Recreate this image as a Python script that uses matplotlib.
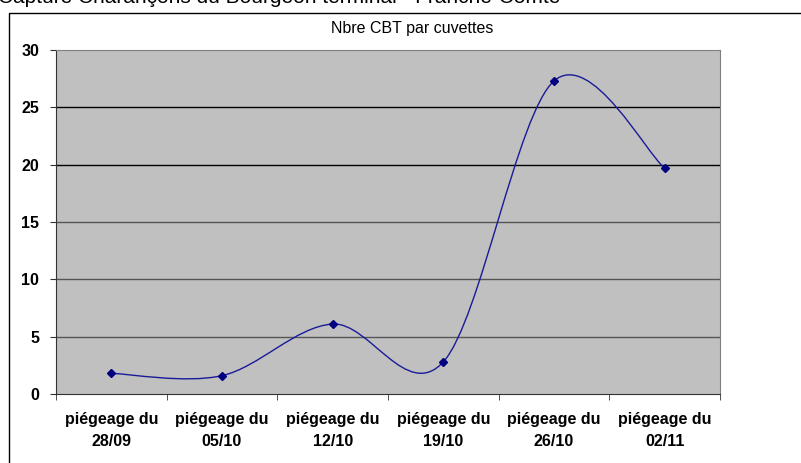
import matplotlib
matplotlib.use('Agg')
import matplotlib.pyplot as plt
import numpy as np
from matplotlib.path import Path
from matplotlib.patches import PathPatch, Rectangle

plt.rcParams['font.family'] = ['Liberation Sans', 'DejaVu Sans']

# Données
categories = ['piégeage du\n28/09', 'piégeage du\n05/10', 'piégeage du\n12/10',
              'piégeage du\n19/10', 'piégeage du\n26/10', 'piégeage du\n02/11']
valeurs = [1.8, 1.6, 6.1, 2.8, 27.3, 19.7]
y_ticks = [0, 5, 10, 15, 20, 25, 30]

fig = plt.figure(figsize=(8.01, 4.63), dpi=100)

# cadre du graphique (coupé à droite et en bas)
fig.patches.append(Rectangle((9 / 801, -0.1), 1.2, 1 - 13 / 463 + 0.1,
                             transform=fig.transFigure, fill=False,
                             edgecolor='black', lw=1))

# titre de la page, coupé en haut
fig.text(-0.002, 1 - 3 / 463, 'Capture Charançons du Bourgeon terminal - Franche-Comté',
         fontsize=15, va='baseline', ha='left')

ax = fig.add_axes([56 / 801, 1 - 394 / 463, 664 / 801, 344 / 463])
ax.set_facecolor('#c0c0c0')

x = np.arange(len(valeurs))

# courbe lissée (style Excel, Bézier)
pts = np.column_stack([x, valeurs]).astype(float)
verts = [pts[0]]
codes = [Path.MOVETO]
n = len(pts)
for i in range(n - 1):
    p0 = pts[max(i - 1, 0)]
    p1 = pts[i]
    p2 = pts[i + 1]
    p3 = pts[min(i + 2, n - 1)]
    c1 = p1 + (p2 - p0) / 6
    c2 = p2 - (p3 - p1) / 6
    verts += [c1, c2, p2]
    codes += [Path.CURVE4] * 3
ax.add_patch(PathPatch(Path(verts, codes), facecolor='none', edgecolor='#1a1a99', lw=1, zorder=3))
ax.plot(x, valeurs, linestyle='none', marker='D', markersize=4.5, color='#000080', zorder=4)

ax.set_xlim(-0.5, len(valeurs) - 0.5)
ax.set_ylim(0, 30)
ax.set_yticks(y_ticks)
ax.set_yticklabels([str(v) for v in y_ticks], fontsize=11.5, fontweight='bold')
ax.set_xticks(x)
ax.set_xticklabels(categories, fontsize=11.5, fontweight='bold', linespacing=1.55)
ax.set_xticks(np.arange(-0.5, len(valeurs)), minor=True)
ax.tick_params(axis='x', which='major', length=0, pad=13)
ax.tick_params(axis='x', which='minor', length=4, direction='out', color='#333333')
ax.tick_params(axis='y', length=4, direction='out', color='#333333', pad=8)

for v in y_ticks[1:-1]:
    ax.axhline(v, color='black' if v >= 20 else '#555555', lw=1, zorder=1)

for s in ['left', 'bottom']:
    ax.spines[s].set_color('#333333')
for s in ['top', 'right']:
    ax.spines[s].set_color('#808080')

fig.text(412 / 801, 1 - 29 / 463, 'Nbre CBT par cuvettes', fontsize=11.5, ha='center', va='center')

fig.savefig('out.png', dpi=100)
